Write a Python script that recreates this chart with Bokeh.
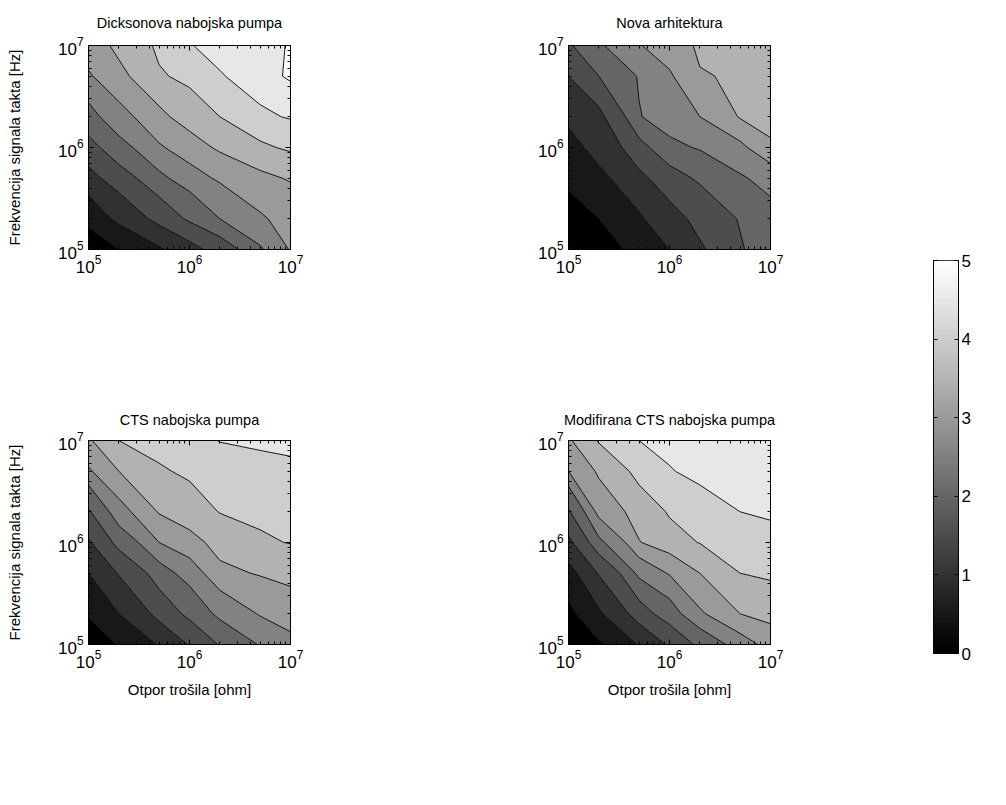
import numpy as np
from bokeh.plotting import figure
from bokeh.layouts import row, column
from bokeh.models import FixedTicker, LogAxis, LinearAxis, LinearColorMapper, Range1d
from bokeh.embed import file_html
from bokeh.resources import INLINE

# ---------------- data ----------------
R_OHM = [1e5, 2e5, 5e5, 1e6, 2e6, 5e6, 1e7]      # load resistance grid
F_HZ = [1e5, 2e5, 5e5, 1e6, 2e6, 5e6, 1e7]       # clock frequency grid
LEVELS = [0.0, 0.5, 1.0, 1.5, 2.0, 2.5, 3.0, 3.5, 4.0, 4.5, 5.0, 5.5]
BAND_COLORS = ["#000000", "#181818", "#313131", "#4d4d4d", "#656565", "#828282",
               "#9a9a9a", "#b2b2b2", "#cecece", "#e7e7e7", "#ffffff"]
TITLES = ["Dicksonova nabojska pumpa", "Nova arhitektura",
          "CTS nabojska pumpa", "Modifirana CTS nabojska pumpa"]
XLABEL = "Otpor trošila [ohm]"
YLABEL = "Frekvencija signala takta [Hz]"
CBAR_TICKS = [0, 1, 2, 3, 4, 5]

# rows: frequency (1e5 -> 1e7), columns: resistance (1e5 -> 1e7)
Z_DICKSON = [
    [0.15, 0.50, 0.95, 1.35, 1.75, 2.45, 3.05],
    [0.70, 1.15, 1.70, 2.10, 2.50, 2.95, 3.20],
    [1.35, 1.80, 2.40, 2.80, 3.10, 3.40, 3.55],
    [1.85, 2.35, 2.95, 3.30, 3.60, 3.92, 4.10],
    [2.35, 2.85, 3.40, 3.75, 4.00, 4.42, 4.55],
    [2.95, 3.40, 3.95, 4.15, 4.47, 4.80, 5.10],
    [3.30, 3.62, 4.12, 4.48, 4.68, 4.90, 5.03],
]
Z_NOVA = [
    [0.15, 0.30, 0.70, 1.00, 1.45, 1.95, 2.40],
    [0.35, 0.50, 0.95, 1.35, 1.65, 2.05, 2.35],
    [0.60, 0.90, 1.40, 1.80, 2.10, 2.45, 2.70],
    [0.85, 1.20, 1.85, 2.40, 2.55, 2.90, 3.45],
    [1.12, 1.40, 2.48, 2.75, 3.00, 3.55, 3.65],
    [1.50, 2.00, 2.55, 2.95, 3.47, 3.58, 3.72],
    [1.95, 2.45, 2.98, 3.25, 3.60, 3.75, 3.85],
]
Z_CTS = [
    [0.20, 0.55, 1.05, 1.55, 2.05, 2.55, 2.85],
    [0.55, 1.00, 1.70, 2.15, 2.65, 3.05, 3.30],
    [1.00, 1.55, 2.30, 2.75, 3.40, 3.55, 3.65],
    [1.45, 2.20, 3.00, 3.35, 3.70, 3.95, 4.02],
    [1.95, 2.85, 3.55, 3.80, 4.02, 4.10, 4.15],
    [2.95, 3.50, 3.95, 4.10, 4.25, 4.35, 4.40],
    [3.45, 4.00, 4.20, 4.35, 4.52, 4.60, 4.65],
]
Z_MOD_CTS = [
    [0.15, 0.45, 1.05, 1.60, 2.15, 2.80, 3.20],
    [0.40, 0.95, 1.80, 2.30, 2.95, 3.50, 3.70],
    [0.85, 1.55, 2.65, 3.05, 3.50, 4.00, 4.10],
    [1.40, 2.40, 3.48, 3.85, 4.02, 4.20, 4.35],
    [1.95, 3.20, 3.75, 4.05, 4.35, 4.50, 4.58],
    [3.00, 3.60, 4.20, 4.48, 4.62, 4.70, 4.75],
    [3.45, 4.05, 4.50, 4.62, 4.70, 4.78, 4.82],
]

FONT = "Liberation Sans"
FRAME_W, FRAME_H = 202, 204
MAJOR = [1e5, 1e6, 1e7]
MINOR = [m * 10.0 ** e for e in (5, 6) for m in range(2, 10)]


def style_axis(ax, show_labels=True):
    ax.ticker = FixedTicker(ticks=MAJOR, minor_ticks=MINOR)
    ax.major_tick_in = 5
    ax.major_tick_out = 0
    ax.minor_tick_in = 3
    ax.minor_tick_out = 0
    ax.axis_line_color = "black"
    ax.major_tick_line_color = "black"
    ax.minor_tick_line_color = "black"
    ax.major_label_text_font = FONT
    ax.major_label_text_color = "black"
    ax.major_label_standoff = 5
    if show_labels:
        ax.major_label_text_font_size = "17px"
    else:
        ax.major_label_text_font_size = "2px"
        ax.major_label_text_alpha = 0.0
        ax.major_label_standoff = 0


def panel(title, z, show_y, show_x, bt, bb, bl, br, title_gap):
    p = figure(width=bl + FRAME_W + br, height=bt + FRAME_H + bb,
               x_axis_type="log", y_axis_type="log",
               x_range=Range1d(1e5, 1e7), y_range=Range1d(1e5, 1e7),
               min_border_left=bl, min_border_right=br,
               min_border_top=bt, min_border_bottom=bb,
               output_backend="svg", toolbar_location=None)
    X, Y = np.meshgrid(R_OHM, F_HZ)
    p.contour(X, Y, np.array(z), levels=LEVELS, fill_color=BAND_COLORS,
              line_color="black", line_width=0.9)
    p.grid.visible = False
    p.outline_line_color = "black"
    p.outline_line_width = 1
    xax = p.xaxis[0]
    yax = p.yaxis[0]
    style_axis(xax)
    style_axis(yax)
    # top axis carries the panel title as its label
    top = LogAxis()
    style_axis(top, False)
    top.axis_label = title
    top.axis_label_text_font = FONT
    top.axis_label_text_font_style = "normal"
    top.axis_label_text_font_size = "14.5px"
    top.axis_label_text_color = "black"
    top.axis_label_standoff = title_gap
    p.add_layout(top, "above")
    right = LogAxis()
    style_axis(right, False)
    p.add_layout(right, "right")
    for ax, lab, show in ((xax, XLABEL, show_x), (yax, YLABEL, show_y)):
        if show:
            ax.axis_label = lab
            ax.axis_label_text_font = FONT
            ax.axis_label_text_font_style = "normal"
            ax.axis_label_text_font_size = "15px"
            ax.axis_label_text_color = "black"
    xax.axis_label_standoff = 10
    yax.axis_label_standoff = 32
    return p


p1 = panel(TITLES[0], Z_DICKSON, True, False, 45, 60, 88, 30, 15)
p2 = panel(TITLES[1], Z_NOVA, False, False, 45, 60, 248, 40, 15)
p3 = panel(TITLES[2], Z_CTS, True, True, 131, 70, 88, 30, 13)
p4 = panel(TITLES[3], Z_MOD_CTS, False, True, 131, 70, 248, 40, 13)

# ---------------- colorbar ----------------
GRAY64 = ["#%02x%02x%02x" % ((round(k * 255 / 63),) * 3) for k in range(64)]
cb_top, cb_h, cb_total = 260, 393, 714
cb = figure(width=123 + 25 + 25, height=cb_total, x_range=Range1d(0, 1),
            y_range=Range1d(CBAR_TICKS[0], CBAR_TICKS[-1]),
            min_border_left=123, min_border_right=25, min_border_top=cb_top,
            min_border_bottom=cb_total - cb_top - cb_h, y_axis_location="right",
            output_backend="svg", toolbar_location=None)
cb.image(image=[np.arange(64).reshape(64, 1)], x=0, y=CBAR_TICKS[0], dw=1,
         dh=CBAR_TICKS[-1] - CBAR_TICKS[0],
         color_mapper=LinearColorMapper(palette=GRAY64, low=0, high=63))
cb.grid.visible = False
cb.xaxis.visible = False
cb.outline_line_color = "black"
cb.yaxis.ticker = FixedTicker(ticks=CBAR_TICKS)
cb.yaxis.major_tick_in = 4
cb.yaxis.major_tick_out = 0
cb.yaxis.minor_tick_line_color = None
cb.yaxis.major_tick_line_color = "black"
cb.yaxis.major_label_text_font = FONT
cb.yaxis.major_label_text_font_size = "17px"
cb.yaxis.major_label_text_color = "black"
cb.yaxis.major_label_standoff = 3
cb.yaxis.axis_line_color = "black"
left_cb = LinearAxis(ticker=FixedTicker(ticks=CBAR_TICKS), major_tick_in=4,
                     major_tick_out=0, minor_tick_line_color=None,
                     major_tick_line_color="black", axis_line_color="black",
                     major_label_text_font_size="2px", major_label_text_alpha=0.0,
                     major_label_standoff=0)
cb.add_layout(left_cb, "left")

layout = row(column(p1, p3), column(p2, p4), cb)

with open("out.html", "w") as fh:
    fh.write(file_html(layout, INLINE))
